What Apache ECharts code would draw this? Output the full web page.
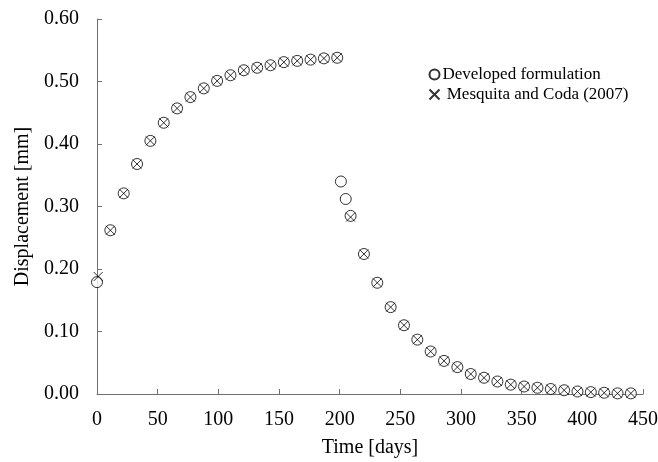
<!DOCTYPE html>
<html>
<head>
<meta charset="utf-8">
<script src="https://cdn.jsdelivr.net/npm/echarts@6/dist/echarts.min.js"></script>
<style>html,body{margin:0;padding:0;background:#fff}#c{width:658px;height:462px}</style>
</head>
<body>
<div id="c"></div>
<script>
const devTimes = [0, 11, 22, 33, 44, 55, 66, 77, 88, 99, 110, 121, 132, 143, 154, 165, 176, 187, 198, 201, 205, 209, 220, 231, 242, 253, 264, 275, 286, 297, 308, 319, 330, 341, 352, 363, 374, 385, 396, 407, 418, 429, 440];
const devValues = [0.179, 0.262, 0.321, 0.368, 0.405, 0.434, 0.457, 0.475, 0.489, 0.501, 0.510, 0.518, 0.522, 0.526, 0.531, 0.533, 0.535, 0.537, 0.538, 0.340, 0.312, 0.285, 0.224, 0.178, 0.139, 0.110, 0.087, 0.068, 0.053, 0.043, 0.032, 0.026, 0.020, 0.015, 0.012, 0.010, 0.008, 0.006, 0.004, 0.003, 0.002, 0.001, 0.001];
const mcTimes = [1, 11, 22, 33, 44, 55, 66, 77, 88, 99, 110, 121, 132, 143, 154, 165, 176, 187, 198, 209, 220, 231, 242, 253, 264, 275, 286, 297, 308, 319, 330, 341, 352, 363, 374, 385, 396, 407, 418, 429, 440];
const mcValues = [0.188, 0.262, 0.321, 0.368, 0.405, 0.434, 0.457, 0.475, 0.489, 0.501, 0.510, 0.518, 0.522, 0.526, 0.531, 0.533, 0.535, 0.537, 0.538, 0.283, 0.224, 0.178, 0.139, 0.110, 0.087, 0.068, 0.053, 0.043, 0.032, 0.026, 0.020, 0.015, 0.012, 0.010, 0.008, 0.006, 0.004, 0.003, 0.002, 0.001, 0.001];
const seriesNames = ['Developed formulation', 'Mesquita and Coda (2007)'];
const xTitle = 'Time [days]';
const yTitle = 'Displacement [mm]';

const font = 'Liberation Serif, Times New Roman, serif';
const chart = echarts.init(document.getElementById('c'), null, {renderer: 'canvas'});
const axisCommon = {
  axisLine: {show: true, lineStyle: {color: '#707070', width: 1}},
  axisTick: {show: true, inside: true, length: 5, lineStyle: {color: '#707070'}},
  splitLine: {show: false},
  axisLabel: {color: '#000', fontFamily: font, fontSize: 20},
  nameTextStyle: {color: '#000', fontFamily: font, fontSize: 20},
  nameLocation: 'middle'
};
chart.setOption({
  animation: false,
  backgroundColor: '#fff',
  grid: {left: 97, right: 15, top: 19, bottom: 68, containLabel: false, outerBoundsMode: 'none'},
  legend: {
    orient: 'vertical', left: 422, top: 61, itemWidth: 10, itemHeight: 10, itemGap: 3,
    textStyle: {color: '#000', fontFamily: font, fontSize: 17, padding: [0, 0, 0, -2]},
    formatter: n => (n === seriesNames[1] ? ' ' + n : n),
    data: seriesNames
  },
  xAxis: Object.assign({}, axisCommon, {
    type: 'value', min: 0, max: 450, interval: 50, name: xTitle, nameGap: 44,
    axisLabel: Object.assign({}, axisCommon.axisLabel, {margin: 16})
  }),
  yAxis: Object.assign({}, axisCommon, {
    type: 'value', min: 0, max: 0.6, interval: 0.1, name: yTitle, nameGap: 64,
    axisLabel: Object.assign({}, axisCommon.axisLabel, {margin: 18, formatter: v => v.toFixed(2)})
  }),
  series: [
    {
      name: seriesNames[0], type: 'scatter', symbol: 'circle', symbolSize: 11,
      itemStyle: {color: '#fff', borderColor: '#000', borderWidth: 1},
      data: devTimes.map((t, i) => [t, devValues[i]]), z: 2
    },
    {
      name: seriesNames[1], type: 'scatter', symbol: 'path://M0,0L10,10M10,0L0,10', symbolSize: 9,
      itemStyle: {color: 'none', borderColor: '#000', borderWidth: 1},
      data: mcTimes.map((t, i) => [t, mcValues[i]]), z: 3
    }
  ]
});
</script>
</body>
</html>
